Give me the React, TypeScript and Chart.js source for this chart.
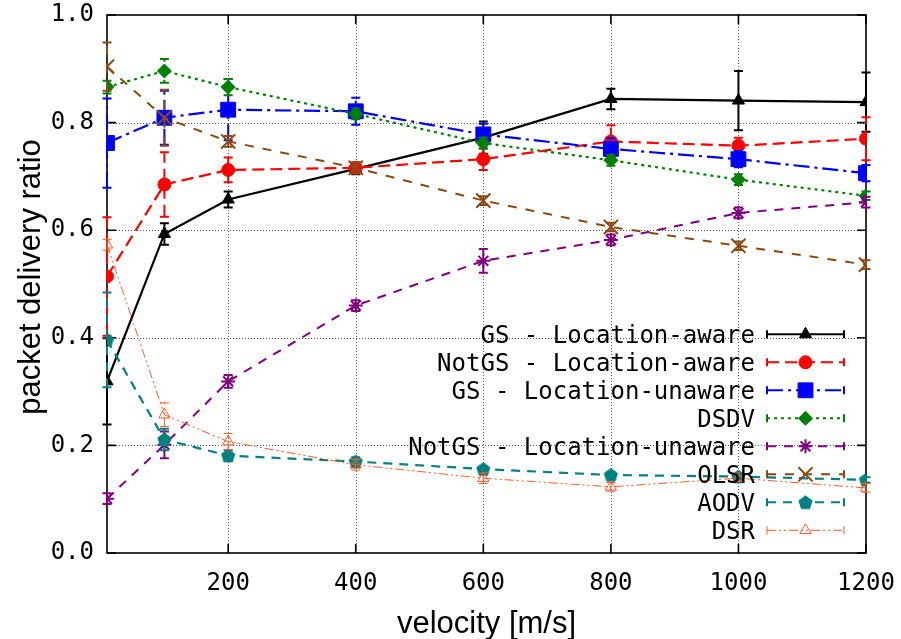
import React, { useEffect, useRef } from "react";
import { Chart, registerables } from "chart.js";

Chart.register(...registerables);

// ---------- data ----------
const velocities = [10, 100, 200, 400, 600, 800, 1000, 1200];
const xTickValues = [200, 400, 600, 800, 1000, 1200];
const yTickValues = [0, 0.2, 0.4, 0.6, 0.8, 1.0];
const xTitle = "velocity [m/s]";
const yTitle = "packet delivery ratio";

const seriesNames = [
  "GS - Location-aware",
  "NotGS - Location-aware",
  "GS - Location-unaware",
  "DSDV",
  "NotGS - Location-unaware",
  "OLSR",
  "AODV",
  "DSR",
];

const gsAware = [0.319, 0.593, 0.657, 0.714, 0.772, 0.844, 0.841, 0.838];
const gsAwareErr = [0.08, 0.02, 0.015, 0.01, 0.03, 0.019, 0.055, 0.055];
const notGsAware = [0.514, 0.685, 0.712, 0.716, 0.732, 0.765, 0.757, 0.77];
const notGsAwareErr = [0.11, 0.06, 0.023, 0.01, 0.02, 0.03, 0.015, 0.04];
const gsUnaware = [0.762, 0.809, 0.824, 0.821, 0.778, 0.751, 0.732, 0.706];
const gsUnawareErr = [0.083, 0.05, 0.057, 0.025, 0.02, 0.02, 0.015, 0.015];
const dsdv = [0.866, 0.896, 0.866, 0.816, 0.762, 0.73, 0.694, 0.664];
const dsdvErr = [0.012, 0.022, 0.015, 0.01, 0.01, 0.01, 0.01, 0.008];
const notGsUnaware = [0.101, 0.201, 0.319, 0.46, 0.543, 0.582, 0.632, 0.652];
const notGsUnawareErr = [0.01, 0.025, 0.012, 0.01, 0.022, 0.01, 0.01, 0.01];
const olsr = [0.904, 0.809, 0.765, 0.716, 0.655, 0.606, 0.571, 0.536];
const olsrErr = [0.045, 0.052, 0.01, 0.01, 0.008, 0.008, 0.008, 0.008];
const aodv = [0.396, 0.211, 0.181, 0.17, 0.156, 0.145, 0.142, 0.136];
const aodvErr = [0.088, 0.02, 0.01, 0.008, 0.005, 0.005, 0.005, 0.005];
const dsr = [0.573, 0.257, 0.207, 0.164, 0.139, 0.123, 0.139, 0.121];
const dsrErr = [0.01, 0.022, 0.015, 0.01, 0.01, 0.008, 0.005, 0.008];

const seriesValues = [gsAware, notGsAware, gsUnaware, dsdv, notGsUnaware, olsr, aodv, dsr];
const seriesErrors = [gsAwareErr, notGsAwareErr, gsUnawareErr, dsdvErr, notGsUnawareErr, olsrErr, aodvErr, dsrErr];

// ---------- styles ----------
const colors = ["#000000", "#ff0000", "#0000ff", "#008000", "#800080", "#8b4a13", "#008080", "#ff5a28"];
const dashes: number[][] = [[], [12, 6], [16, 5, 3, 5], [3, 4], [9, 8], [9, 9], [9, 7], [9, 3, 2, 3, 2, 3]];
const widths = [2.2, 2.2, 2.2, 2.2, 2, 2, 2.2, 1];
const pointStyles: any[] = ["triangle", "circle", "rect", "rectRot", "star", "crossRot", "pentagon", "triangle"];
const pointRadii = [7, 6.5, 10.5, 7, 7, 10, 7.5, 6.5];
const filled = [true, true, true, true, false, false, true, false];

const MONO = "'DejaVu Sans Mono', monospace";
const SANS = "'Liberation Sans', Arial, sans-serif";

function makePentagon(color: string, r: number) {
  const size = Math.ceil(r * 2 + 2);
  const c = document.createElement("canvas");
  c.width = size;
  c.height = size;
  const g = c.getContext("2d")!;
  g.fillStyle = color;
  g.beginPath();
  for (let k = 0; k < 5; k++) {
    const a = -Math.PI / 2 + (k * 2 * Math.PI) / 5;
    const px = size / 2 + Math.cos(a) * r;
    const py = size / 2 + 0.6 + Math.sin(a) * r;
    if (k === 0) g.moveTo(px, py);
    else g.lineTo(px, py);
  }
  g.closePath();
  g.fill();
  return c;
}

function drawPointShape(ctx: CanvasRenderingContext2D, style: string, r: number, x: number, y: number, fill: boolean) {
  ctx.beginPath();
  if (style === "triangle") {
    for (let k = 0; k < 3; k++) {
      const a = -Math.PI / 2 + (k * 2 * Math.PI) / 3;
      const px = x + Math.cos(a) * r;
      const py = y + Math.sin(a) * r;
      if (k === 0) ctx.moveTo(px, py);
      else ctx.lineTo(px, py);
    }
    ctx.closePath();
  } else if (style === "circle") {
    ctx.arc(x, y, r, 0, Math.PI * 2);
  } else if (style === "rect") {
    const s = r * Math.SQRT1_2;
    ctx.rect(x - s, y - s, 2 * s, 2 * s);
  } else if (style === "rectRot") {
    ctx.moveTo(x, y - r);
    ctx.lineTo(x + r, y);
    ctx.lineTo(x, y + r);
    ctx.lineTo(x - r, y);
    ctx.closePath();
  } else if (style === "star") {
    ctx.moveTo(x, y - r);
    ctx.lineTo(x, y + r);
    ctx.moveTo(x - r, y);
    ctx.lineTo(x + r, y);
    const d = r * Math.SQRT1_2;
    ctx.moveTo(x - d, y - d);
    ctx.lineTo(x + d, y + d);
    ctx.moveTo(x - d, y + d);
    ctx.lineTo(x + d, y - d);
  } else if (style === "crossRot") {
    const d = r * Math.SQRT1_2;
    ctx.moveTo(x - d, y - d);
    ctx.lineTo(x + d, y + d);
    ctx.moveTo(x - d, y + d);
    ctx.lineTo(x + d, y - d);
  }
  if (fill) ctx.fill();
  ctx.stroke();
}

function markerLineWidth(i: number) {
  return filled[i] ? 1 : widths[i] < 1.5 ? 1 : 2;
}

function drawMarker(ctx: CanvasRenderingContext2D, i: number, x: number, y: number, pent: HTMLCanvasElement) {
  const style = pointStyles[i];
  if (style === "pentagon") {
    ctx.drawImage(pent, x - pent.width / 2, y - pent.height / 2);
    return;
  }
  ctx.save();
  ctx.setLineDash([]);
  ctx.strokeStyle = colors[i];
  ctx.fillStyle = filled[i] ? colors[i] : "rgba(0,0,0,0)";
  ctx.lineWidth = markerLineWidth(i);
  drawPointShape(ctx, style, pointRadii[i], x, y, filled[i]);
  ctx.restore();
}

export default function App() {
  const canvasRef = useRef<HTMLCanvasElement | null>(null);

  useEffect(() => {
    if (!canvasRef.current) return;
    const pent = makePentagon(colors[6], pointRadii[6]);

    const datasets = seriesNames.map((name, i) => ({
      label: name,
      data: seriesValues[i].map((v, j) => ({ x: velocities[j], y: v })),
      borderColor: colors[i],
      backgroundColor: colors[i],
      borderWidth: widths[i],
      borderDash: dashes[i],
      pointStyle: pointStyles[i] === "pentagon" ? pent : pointStyles[i],
      pointRadius: pointRadii[i],
      pointBorderWidth: markerLineWidth(i),
      pointBackgroundColor: filled[i] ? colors[i] : "rgba(0,0,0,0)",
      pointBorderColor: colors[i],
      fill: false,
      tension: 0,
      order: seriesNames.length - i,
    }));

    const framePlugin = {
      id: "frame",
      beforeDatasetsDraw(chart: any) {
        const { ctx, chartArea: a, scales } = chart;
        const xs = scales.x;
        const ys = scales.y;
        ctx.save();
        ctx.strokeStyle = "#555";
        ctx.lineWidth = 1;
        ctx.setLineDash([1, 2]);
        xTickValues.forEach((v) => {
          if (v >= xs.max) return;
          const px = Math.round(xs.getPixelForValue(v)) + 0.5;
          ctx.beginPath();
          ctx.moveTo(px, a.top);
          ctx.lineTo(px, a.bottom);
          ctx.stroke();
        });
        yTickValues.forEach((v) => {
          if (v <= ys.min || v >= ys.max) return;
          const py = Math.round(ys.getPixelForValue(v)) + 0.5;
          ctx.beginPath();
          ctx.moveTo(a.left, py);
          ctx.lineTo(a.right, py);
          ctx.stroke();
        });
        ctx.setLineDash([]);
        ctx.strokeStyle = "#000";
        ctx.lineWidth = 1.6;
        ctx.strokeRect(a.left, a.top, a.right - a.left, a.bottom - a.top);
        const tl = 9;
        ctx.beginPath();
        xTickValues.forEach((v) => {
          const px = xs.getPixelForValue(v);
          ctx.moveTo(px, a.bottom);
          ctx.lineTo(px, a.bottom - tl);
          ctx.moveTo(px, a.top);
          ctx.lineTo(px, a.top + tl);
        });
        yTickValues.forEach((v) => {
          const py = ys.getPixelForValue(v);
          ctx.moveTo(a.left, py);
          ctx.lineTo(a.left + tl, py);
          ctx.moveTo(a.right, py);
          ctx.lineTo(a.right - tl, py);
        });
        ctx.stroke();
        ctx.restore();
      },
    };

    const errorBarPlugin = {
      id: "errorbars",
      beforeDatasetDraw(chart: any, args: any) {
        const i = args.index;
        const { ctx, scales } = chart;
        const xs = scales.x;
        const ys = scales.y;
        const vals = seriesValues[i];
        const errs = seriesErrors[i];
        ctx.save();
        ctx.strokeStyle = colors[i];
        ctx.lineWidth = widths[i] < 1.5 ? 1 : 2;
        vals.forEach((v, j) => {
          const px = xs.getPixelForValue(velocities[j]);
          const pt = ys.getPixelForValue(v + errs[j]);
          const pb = ys.getPixelForValue(v - errs[j]);
          ctx.setLineDash(dashes[i]);
          ctx.beginPath();
          ctx.moveTo(px, pb);
          ctx.lineTo(px, pt);
          ctx.stroke();
          ctx.setLineDash([]);
          ctx.beginPath();
          ctx.moveTo(px - 4.5, pt);
          ctx.lineTo(px + 4.5, pt);
          ctx.moveTo(px - 4.5, pb);
          ctx.lineTo(px + 4.5, pb);
          ctx.stroke();
        });
        ctx.restore();
      },
    };

    const legendPlugin = {
      id: "customLegend",
      afterDraw(chart: any) {
        const { ctx, chartArea: a } = chart;
        ctx.save();
        const textRight = a.right - 111;
        const sx0 = a.right - 99;
        const sx1 = a.right - 22;
        seriesNames.forEach((name, i) => {
          const cy = a.top + 319.3 + i * 28;
          ctx.font = `24px ${MONO}`;
          ctx.fillStyle = "#000";
          ctx.textAlign = "right";
          ctx.textBaseline = "alphabetic";
          ctx.fillText(name, textRight, cy + 8.7);
          ctx.strokeStyle = colors[i];
          ctx.lineWidth = widths[i] < 1.5 ? 1 : 2;
          ctx.setLineDash(dashes[i]);
          ctx.beginPath();
          ctx.moveTo(sx0, cy);
          ctx.lineTo(sx1, cy);
          ctx.stroke();
          ctx.setLineDash([]);
          ctx.beginPath();
          ctx.moveTo(sx0, cy - 4);
          ctx.lineTo(sx0, cy + 4);
          ctx.moveTo(sx1, cy - 4);
          ctx.lineTo(sx1, cy + 4);
          ctx.stroke();
          drawMarker(ctx, i, (sx0 + sx1) / 2, cy, pent);
        });
        // axis titles
        ctx.fillStyle = "#000";
        ctx.font = `31px ${SANS}`;
        ctx.textAlign = "center";
        ctx.textBaseline = "alphabetic";
        ctx.fillText(xTitle, (a.left + a.right) / 2, 632.5);
        ctx.translate(40, 277);
        ctx.rotate(-Math.PI / 2);
        ctx.fillText(yTitle, 0, 0);
        ctx.restore();
      },
    };

    const chart = new Chart(canvasRef.current, {
      type: "line",
      data: { datasets: datasets as any },
      options: {
        animation: false,
        responsive: true,
        maintainAspectRatio: false,
        layout: { padding: { left: 0, right: 35, top: 15, bottom: 0 } },
        plugins: { legend: { display: false }, tooltip: { enabled: false } },
        scales: {
          x: {
            type: "linear",
            min: 10,
            max: 1200,
            afterBuildTicks: (s: any) => {
              s.ticks = xTickValues.map((v) => ({ value: v }));
            },
            afterFit: (s: any) => {
              s.height = 86;
              s.paddingLeft = 0;
              s.paddingRight = 0;
              s.paddingTop = 0;
              s.paddingBottom = 0;
            },
            ticks: {
              font: { family: MONO, size: 24 },
              color: "#000",
              padding: 16,
              maxRotation: 0,
              autoSkip: false,
              callback: (v: any) => String(v),
            },
            grid: { display: false, drawTicks: false },
            border: { display: false },
          },
          y: {
            type: "linear",
            min: 0,
            max: 1,
            afterBuildTicks: (s: any) => {
              s.ticks = yTickValues.map((v) => ({ value: v }));
            },
            afterFit: (s: any) => {
              s.width = 107;
              s.paddingLeft = 0;
              s.paddingRight = 0;
              s.paddingTop = 0;
              s.paddingBottom = 0;
            },
            ticks: {
              font: { family: MONO, size: 24 },
              color: "#000",
              padding: 13,
              autoSkip: false,
              callback: (v: any) => Number(v).toFixed(1),
            },
            grid: { display: false, drawTicks: false },
            border: { display: false },
          },
        },
      },
      plugins: [framePlugin, errorBarPlugin, legendPlugin],
    });
    return () => chart.destroy();
  }, []);

  return (
    <div style={{ position: "fixed", left: 0, top: 0, width: 901, height: 639, background: "#fff" }}>
      <canvas ref={canvasRef} />
    </div>
  );
}
